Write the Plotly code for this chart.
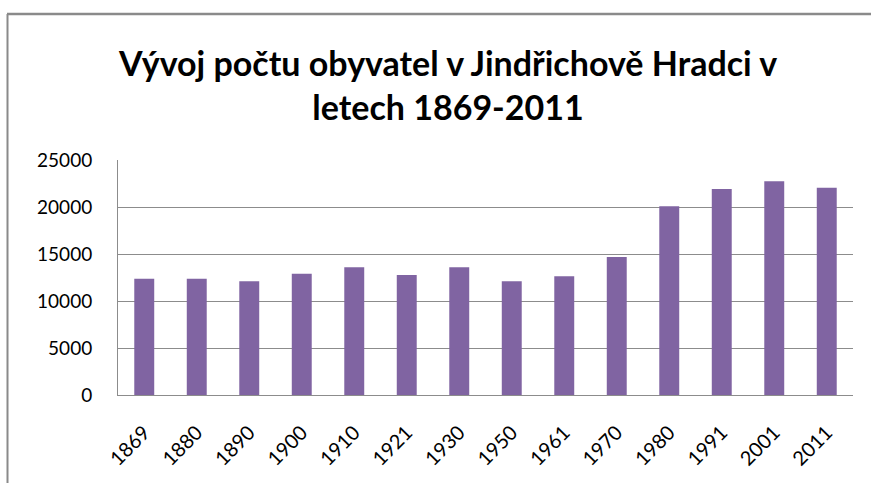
import plotly.graph_objects as go

years = ["1869", "1880", "1890", "1900", "1910", "1921", "1930", "1950",
         "1961", "1970", "1980", "1991", "2001", "2011"]
population = [12370, 12370, 12090, 12910, 13580, 12770, 13580, 12090,
              12620, 14680, 20070, 21910, 22730, 22060]
y_ticks = [0, 5000, 10000, 15000, 20000, 25000]

W, H = 871, 483
L, R, T, B = 118, 18, 160, 88
pw = W - L - R
ph = H - T - B

def px_x(p):
    return (p - L) / pw

def px_y(p):
    return (H - B - p) / ph

fig = go.Figure(go.Bar(
    x=years, y=population,
    marker=dict(color="#8064A2", line=dict(width=0)),
))

fig.update_layout(
    width=W, height=H,
    margin=dict(l=L, r=R, t=T, b=B, autoexpand=False),
    paper_bgcolor="white", plot_bgcolor="white",
    bargap=0.62,
    showlegend=False,
    title=dict(
        text="Vývoj počtu obyvatel v Jindřichově Hradci v<br>letech 1869-2011",
        font=dict(family="Lato", size=34, color="black", weight="bold"),
        x=448 / W, xanchor="center", xref="container",
        y=1 - 76 / H, yanchor="middle", yref="container",
    ),
    font=dict(family="Lato", size=19, color="black"),
    xaxis=dict(
        type="category",
        tickangle=-45,
        showline=True, linecolor="#8c8c8c", linewidth=1,
        ticks="", showgrid=False,
        ticklabelstandoff=17,
        tickfont=dict(family="Lato", size=20, color="black"),
    ),
    yaxis=dict(
        range=[0, 25000],
        tickvals=y_ticks,
        ticktext=[str(v) for v in y_ticks],
        showgrid=True, gridcolor="#8c8c8c", gridwidth=1,
        showline=True, linecolor="#8c8c8c", linewidth=1,
        zeroline=False,
        ticks="",
        ticklabelstandoff=21,
        tickfont=dict(family="Lato", size=19, color="black"),
    ),
    shapes=[
        dict(type="line", xref="paper", yref="paper",
             x0=px_x(7), x1=px_x(871), y0=px_y(14), y1=px_y(14),
             line=dict(color="#8a8a8a", width=2.5)),
        dict(type="line", xref="paper", yref="paper",
             x0=px_x(7.5), x1=px_x(7.5), y0=px_y(14), y1=px_y(483),
             line=dict(color="#8a8a8a", width=2)),
    ],
)

fig.write_html("out.html", config={"displayModeBar": False},
               post_script="document.body.style.margin='0px';")
